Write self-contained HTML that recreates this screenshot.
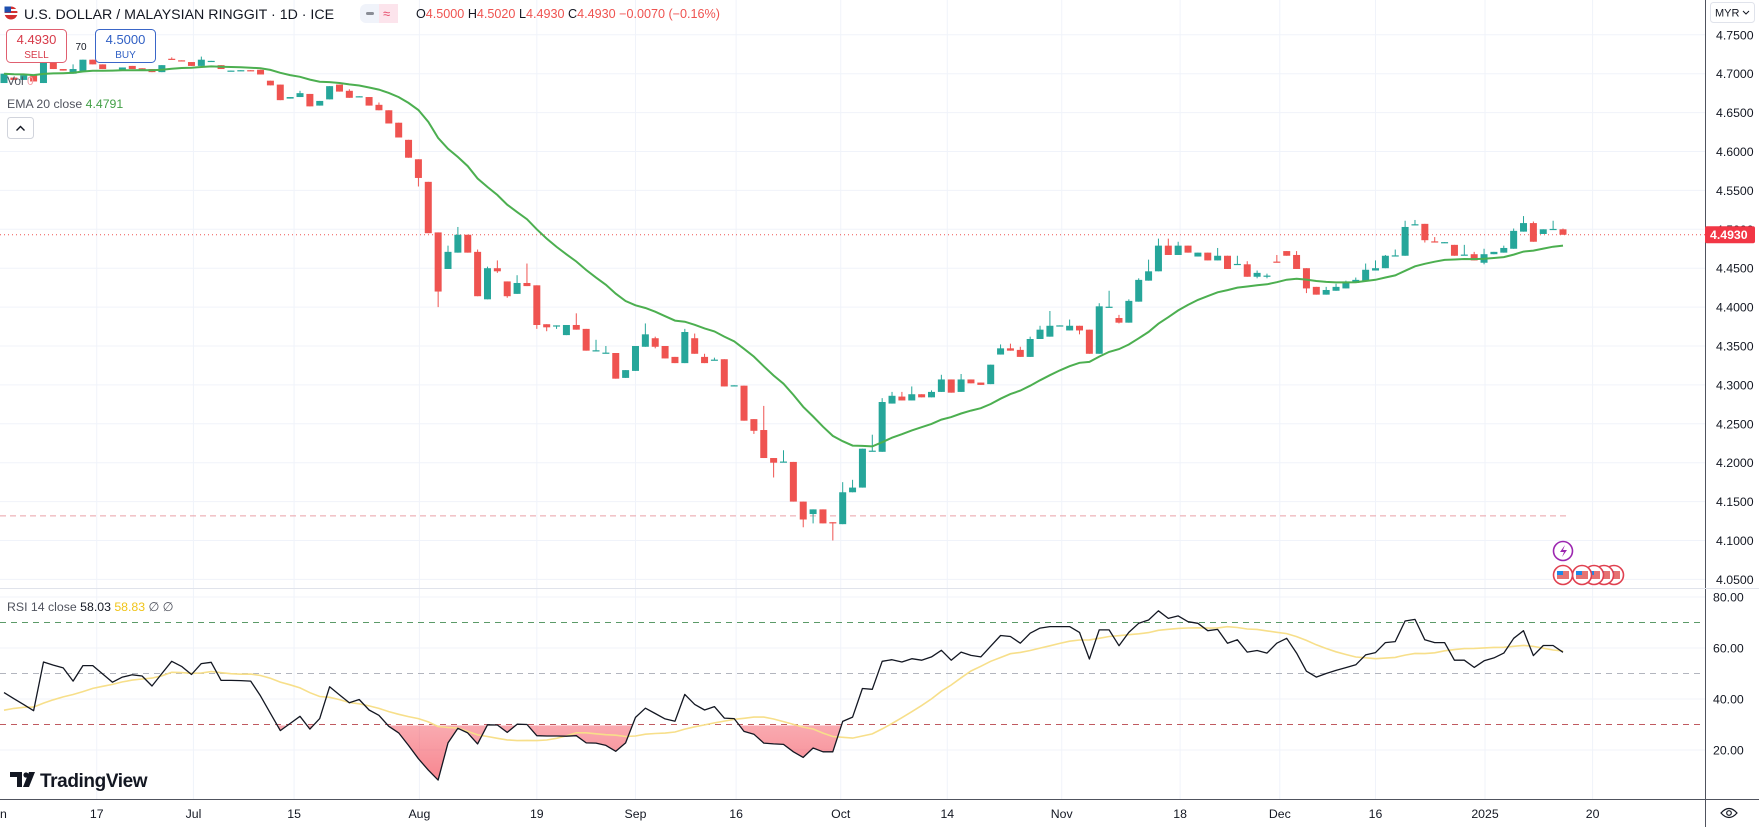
<!DOCTYPE html>
<html><head><meta charset="utf-8">
<style>
html,body{margin:0;padding:0;background:#fff;width:1759px;height:827px;overflow:hidden}
svg{display:block;font-family:"Liberation Sans",Arial,sans-serif}
</style></head>
<body>
<svg id="chart" width="1759" height="827" viewBox="0 0 1759 827" xmlns="http://www.w3.org/2000/svg">
<defs>
<linearGradient id="pinkGrad" x1="0" y1="0" x2="0" y2="1">
<stop offset="0" stop-color="#f23645" stop-opacity="0.05"/>
<stop offset="1" stop-color="#f23645" stop-opacity="0.6"/>
</linearGradient>
<clipPath id="below30"><rect x="0" y="725.5" width="1705" height="75"/></clipPath>
<clipPath id="pricePane"><rect x="0" y="0" width="1705" height="587"/></clipPath>
</defs>
<g id="grid"></g>
<g id="price" clip-path="url(#pricePane)"></g>
<g id="rsi"></g>
<g id="axes"></g>

<g>
<circle cx="11" cy="13" r="6.5" fill="#d32f2f"/>
<rect x="4.5" y="9" width="13" height="2" fill="#fff"/>
<rect x="4.5" y="13" width="13" height="2" fill="#fff"/>
<rect x="4.5" y="6.5" width="6.5" height="6" fill="#1e4fae"/>
</g>
<text x="24" y="19" font-size="14.2" fill="#131722">U.S. DOLLAR / MALAYSIAN RINGGIT · 1D · ICE</text>
<g>
<rect x="360" y="4" width="38" height="19" rx="6" fill="#f0f3fa"/>
<rect x="379" y="4" width="19" height="19" fill="#fce4ec"/>
<rect x="366" y="12" width="8" height="3" rx="1.5" fill="#8a8d96"/>
<text x="383" y="18" font-size="13" fill="#e64a6a">≈</text>
</g>
<text x="416" y="18" font-size="12.6"><tspan fill="#131722">O</tspan><tspan fill="#ef5350">4.5000</tspan><tspan fill="#131722"> H</tspan><tspan fill="#ef5350">4.5020</tspan><tspan fill="#131722"> L</tspan><tspan fill="#ef5350">4.4930</tspan><tspan fill="#131722"> C</tspan><tspan fill="#ef5350">4.4930 −0.0070 (−0.16%)</tspan></text>

<g>
<rect x="6.5" y="29.5" width="60" height="33" rx="4" fill="#fff" fill-opacity="0.85" stroke="#e06070"/>
<text x="36.5" y="44" font-size="13" fill="#d73a49" text-anchor="middle">4.4930</text>
<text x="36.5" y="58" font-size="10" fill="#d73a49" text-anchor="middle">SELL</text>
</g>
<text x="81" y="50" font-size="10" fill="#131722" text-anchor="middle">70</text>
<g>
<rect x="95.5" y="29.5" width="60" height="33" rx="4" fill="#fff" fill-opacity="0.85" stroke="#3a66c8"/>
<text x="125.5" y="44" font-size="13" fill="#2f5fc4" text-anchor="middle">4.5000</text>
<text x="125.5" y="58" font-size="10" fill="#2f5fc4" text-anchor="middle">BUY</text>
</g>
<text x="7" y="85" font-size="12"><tspan fill="#50535e">Vol</tspan><tspan fill="#f4a0a8"> 0</tspan></text>
<text x="7" y="108" font-size="12.3"><tspan fill="#50535e">EMA 20 close</tspan><tspan fill="#43a047"> 4.4791</tspan></text>
<g>
<rect x="7.5" y="117.5" width="26" height="21" rx="3" fill="#fff" stroke="#d1d4dc"/>
<path d="M16.5 130.5 L20.5 126.5 L24.5 130.5" fill="none" stroke="#131722" stroke-width="1.4"/>
</g>
<text x="7" y="611" font-size="12.3"><tspan fill="#50535e">RSI 14 close</tspan><tspan fill="#131722"> 58.03</tspan><tspan fill="#f0c419"> 58.83</tspan><tspan fill="#50535e"> ∅ ∅</tspan></text>

<g>
<path d="M10 772 h12 v15 h-5 v-10 h-7z" fill="#131722"/>
<circle cx="26" cy="775" r="2.6" fill="#131722"/>
<path d="M29 772 h6 l-6 15 h-6z" fill="#131722"/>
<text x="40" y="787" font-size="19" font-weight="bold" fill="#131722" letter-spacing="-0.4">TradingView</text>
</g>

<g>
<rect x="1710.5" y="2.5" width="44" height="20" rx="3" fill="#fff" stroke="#e0e3eb"/>
<text x="1715" y="16.5" font-size="11" fill="#131722">MYR</text>
<path d="M1743 11 l3 3 l3 -3" fill="none" stroke="#131722" stroke-width="1"/>
</g>

<g>
<circle cx="1563" cy="551" r="9.5" fill="#fff" stroke="#9c27b0" stroke-width="1.6"/>
<path d="M1565 545 l-5 7 h4 l-2 5 l5 -7 h-4z" fill="#9c27b0"/>
</g>
<g id="flags"></g>

<g>
<path d="M1721 813 q8 -9 16 0 q-8 9 -16 0z" fill="none" stroke="#131722" stroke-width="1.2"/>
<circle cx="1729" cy="813" r="2.3" fill="none" stroke="#131722" stroke-width="1.2"/>
</g>
</svg>

<script>
// ---------- data ----------
const opens = [4.688,4.695,4.692,4.698,4.688,4.714,4.706,4.700,4.703,4.718,4.712,4.704,4.704,4.710,4.707,4.706,4.702,4.7192,4.7172,4.715,4.710,4.716,4.711,4.703,4.704,4.7045,4.705,4.691,4.686,4.668,4.670,4.674,4.659,4.667,4.686,4.678,4.670,4.670,4.660,4.653,4.637,4.615,4.590,4.561,4.496,4.449,4.470,4.493,4.471,4.410,4.450,4.433,4.417,4.431,4.428,4.378,4.376,4.364,4.377,4.372,4.344,4.341,4.341,4.309,4.318,4.349,4.360,4.350,4.336,4.328,4.360,4.336,4.332,4.333,4.299,4.299,4.256,4.242,4.206,4.201,4.201,4.150,4.134,4.140,4.1235,4.121,4.162,4.168,4.215,4.214,4.276,4.285,4.280,4.288,4.284,4.291,4.307,4.291,4.307,4.303,4.301,4.339,4.347,4.345,4.336,4.359,4.362,4.376,4.370,4.376,4.371,4.340,4.400,4.386,4.380,4.407,4.434,4.446,4.479,4.467,4.479,4.465,4.470,4.460,4.466,4.455,4.455,4.439,4.440,4.4585,4.472,4.467,4.450,4.426,4.416,4.421,4.424,4.431,4.434,4.447,4.450,4.466,4.466,4.506,4.507,4.4845,4.483,4.480,4.467,4.468,4.457,4.468,4.470,4.475,4.497,4.508,4.494,4.500,4.500];
const closes = [4.700,4.692,4.698,4.690,4.714,4.706,4.704,4.706,4.718,4.712,4.706,4.7045,4.708,4.706,4.706,4.702,4.711,4.719,4.717,4.710,4.718,4.7165,4.706,4.704,4.7045,4.704,4.699,4.685,4.666,4.670,4.675,4.658,4.665,4.684,4.677,4.669,4.671,4.659,4.653,4.636,4.618,4.592,4.566,4.495,4.420,4.471,4.493,4.470,4.414,4.450,4.446,4.414,4.431,4.427,4.377,4.374,4.3765,4.377,4.371,4.344,4.3445,4.3415,4.308,4.319,4.350,4.365,4.349,4.334,4.328,4.368,4.340,4.328,4.3325,4.298,4.2995,4.254,4.241,4.206,4.200,4.2015,4.150,4.127,4.140,4.122,4.123,4.162,4.168,4.218,4.2155,4.278,4.286,4.280,4.288,4.284,4.291,4.307,4.290,4.307,4.302,4.300,4.326,4.347,4.344,4.336,4.359,4.371,4.376,4.3765,4.376,4.370,4.340,4.401,4.4005,4.380,4.408,4.435,4.446,4.479,4.467,4.479,4.470,4.470,4.460,4.466,4.449,4.4555,4.439,4.444,4.4405,4.458,4.466,4.449,4.424,4.416,4.422,4.426,4.431,4.435,4.448,4.450,4.466,4.4665,4.503,4.5065,4.486,4.484,4.4835,4.466,4.4675,4.460,4.468,4.471,4.476,4.498,4.508,4.484,4.500,4.5005,4.493];
const highPairs = [[7,4.712],[17,4.721],[20,4.722],[30,4.678],[35,4.680],[38,4.663],[45,4.479],[46,4.503],[48,4.474],[49,4.452],[50,4.460],[52,4.441],[53,4.456],[58,4.392],[60,4.358],[61,4.350],[65,4.379],[66,4.362],[69,4.372],[70,4.366],[71,4.340],[72,4.335],[77,4.273],[79,4.216],[85,4.175],[86,4.178],[88,4.236],[89,4.283],[90,4.291],[91,4.291],[92,4.298],[94,4.293],[95,4.313],[97,4.314],[99,4.303],[101,4.352],[102,4.353],[103,4.349],[104,4.362],[105,4.376],[106,4.395],[108,4.384],[111,4.405],[112,4.421],[113,4.390],[114,4.410],[115,4.437],[116,4.461],[117,4.488],[118,4.488],[119,4.484],[123,4.476],[125,4.466],[126,4.459],[127,4.447],[128,4.443],[129,4.467],[131,4.472],[134,4.426],[135,4.430],[136,4.434],[137,4.438],[138,4.456],[139,4.460],[140,4.467],[141,4.474],[142,4.511],[143,4.512],[145,4.490],[148,4.480],[149,4.471],[150,4.475],[152,4.479],[153,4.501],[154,4.517],[155,4.510],[157,4.511],[158,4.501]];
const lowPairs = [[42,4.555],[44,4.400],[50,4.444],[51,4.412],[54,4.372],[55,4.369],[56,4.372],[60,4.343],[66,4.347],[76,4.237],[78,4.181],[81,4.117],[82,4.122],[84,4.100],[109,4.365],[113,4.379],[127,4.437],[128,4.437],[132,4.418],[144,4.483],[150,4.455]];
const emaSeed = 4.700;
const rsiValues = [42.5,40.1,37.8,35.4,54.5,53.3,52.2,47.0,53.1,53.1,49.8,46.6,48.6,49.5,49.0,45.1,50.0,54.8,52.8,49.6,53.9,54.4,47.3,47.3,47.2,47.0,41.2,34.4,27.6,30.4,33.2,28.2,32.3,44.8,41.6,38.5,39.8,35.7,33.6,29.3,26.7,21.8,16.6,12.1,8.2,22.8,28.5,26.7,22.4,29.9,29.8,26.9,30.1,30.0,25.6,25.5,25.5,25.4,25.6,22.8,22.7,21.8,19.5,22.8,32.8,36.4,34.3,32.2,31.3,41.8,37.9,35.7,37.0,32.5,32.3,27.3,26.2,22.7,22.4,22.2,19.3,17.1,20.8,19.3,19.3,31.2,32.9,44.1,43.8,54.8,55.4,54.5,55.8,55.2,56.5,59.1,55.2,58.4,57.1,56.5,60.7,64.9,64.5,61.9,65.8,67.8,68.4,68.4,68.4,66.1,55.7,67.1,67.1,60.9,66.1,69.7,71.0,74.6,71.6,72.6,70.3,69.7,66.8,67.3,61.9,63.2,58.4,59.0,58.0,61.9,63.8,58.0,50.9,48.6,50.0,51.2,52.3,53.4,57.3,58.2,62.1,62.5,70.6,71.2,63.2,62.1,62.1,55.2,55.2,52.4,55.0,56.1,58.0,63.8,66.8,57.0,61.0,61.0,58.3];
const rsiPrior = [30,32,34,33,35,36,34,37,36,38,36,35,40];
const priceTicks = [4.05,4.10,4.15,4.20,4.25,4.30,4.35,4.40,4.45,4.50,4.55,4.60,4.65,4.70,4.75];
const rsiTicks = [20,40,60,80];
const timeLabels = ["17","Jul","15","Aug","19","Sep","16","Oct","14","Nov","18","Dec","16","2025","20"];
const timeIdx = [9.4,19.2,29.4,42.1,54.0,64.0,74.2,84.8,95.6,107.2,119.2,129.3,139.0,150.1,161.0];
const lastPrice = 4.4930;
const prevLine = 4.1316;

// ---------- scales ----------
const NS = "http://www.w3.org/2000/svg";
const xOf = i => 4 + i * 9.867;
const yP = p => 229.3 + (4.5 - p) * 778;
const yR = r => 648 - (r - 60) * 2.55;
function mk(tag, attrs, parent){const e=document.createElementNS(NS,tag);for(const k in attrs)e.setAttribute(k,attrs[k]);parent.appendChild(e);return e;}
const grid = document.getElementById('grid'), price = document.getElementById('price'), rsiG = document.getElementById('rsi'), axes = document.getElementById('axes');

priceTicks.forEach(p=>{const l=mk('line',{x1:0,x2:1705,y1:yP(p),y2:yP(p),stroke:'#f0f3fa','stroke-width':1},grid);

});
rsiTicks.forEach(r=>{const l=mk('line',{x1:0,x2:1705,y1:yR(r),y2:yR(r),stroke:'#f0f3fa'},grid);

});
timeIdx.forEach(i=>{const l=mk('line',{x1:xOf(i),x2:xOf(i),y1:0,y2:799,stroke:'#f0f3fa'},grid);

});

const pl = mk('line',{x1:0,x2:1568,y1:yP(prevLine),y2:yP(prevLine),stroke:'#e9a0a8','stroke-dasharray':'6 4'},price);


const lpl = mk('line',{x1:0,x2:1705,y1:yP(lastPrice),y2:yP(lastPrice),stroke:'#ef5350','stroke-dasharray':'1 3'},price);



const highs = closes.map((c,i)=>Math.max(c,opens[i])); highPairs.forEach(([i,v])=>highs[i]=v);
const lows = closes.map((c,i)=>Math.min(c,opens[i])); lowPairs.forEach(([i,v])=>lows[i]=v);
closes.forEach((c,i)=>{
  const o=opens[i], up=c>=o, col=up?'#26a69a':'#ef5350', x=xOf(i);
  const g=mk('g',{},price);
  
  
  mk('line',{x1:x,x2:x,y1:yP(highs[i]),y2:yP(lows[i]),stroke:col,'stroke-width':1},g);
  const t=yP(Math.max(o,c)), b=yP(Math.min(o,c));
  mk('rect',{x:x-3.5,y:t,width:7,height:Math.max(1.2,b-t),fill:col},g);
});

const k=2/21; let e=emaSeed; const ema=closes.map(c=>(e=c*k+e*(1-k)));
const emaPath = mk('path',{d:ema.map((v,i)=>(i?'L':'M')+xOf(i).toFixed(1)+' '+yP(v).toFixed(1)).join(''),fill:'none',stroke:'#4caf50','stroke-width':2},price);



[[70,'#5b9a68'],[50,'#b2b5be'],[30,'#c05a60']].forEach(([v,c])=>{const l=mk('line',{x1:0,x2:1705,y1:yR(v),y2:yR(v),stroke:c,'stroke-dasharray':'6 5'},rsiG);

});
const pts = rsiValues.map((r,i)=>xOf(i).toFixed(1)+' '+yR(r).toFixed(1));
const fill = mk('path',{d:'M'+xOf(0)+' '+yR(30)+' L'+pts.join(' L')+' L'+xOf(rsiValues.length-1)+' '+yR(30)+'Z',fill:'url(#pinkGrad)','clip-path':'url(#below30)'},rsiG);


const all = rsiPrior.concat(rsiValues); const ma = rsiValues.map((r,i)=>{let s=0;for(let j=i;j<i+14;j++)s+=all[j];return s/14;});
const maPath = mk('path',{d:ma.map((v,i)=>(i?'L':'M')+xOf(i).toFixed(1)+' '+yR(v).toFixed(1)).join(''),fill:'none',stroke:'#f7df8a','stroke-width':1.6},rsiG);


const rsiPath = mk('path',{d:'M'+pts.join(' L'),fill:'none',stroke:'#131722','stroke-width':1.3,'stroke-linejoin':'round'},rsiG);



const sep=[['line',{x1:1705.5,x2:1705.5,y1:0,y2:827,stroke:'#50535e'}],['line',{x1:0,x2:1759,y1:588.5,y2:588.5,stroke:'#e0e3eb'}],['line',{x1:0,x2:1759,y1:799.5,y2:799.5,stroke:'#50535e'}]];
sep.forEach(([t,a])=>{const l=mk(t,a,axes);

});
priceTicks.forEach(p=>{const t=mk('text',{x:1716,y:yP(p)+4.5,'font-size':12.3,fill:'#131722'},axes);t.textContent=p.toFixed(4);

});
rsiTicks.forEach(r=>{const t=mk('text',{x:1713,y:yR(r)+4.5,'font-size':12.3,fill:'#131722'},axes);t.textContent=r.toFixed(2);

});
timeLabels.forEach((s,n)=>{const t=mk('text',{x:xOf(timeIdx[n]),y:818,'font-size':12.3,fill:'#131722','text-anchor':'middle'},axes);t.textContent=s;

});
const jn=mk('text',{x:0,y:818,'font-size':12.3,fill:'#131722'},axes);jn.textContent='n';


const lg=mk('g',{},axes);


mk('rect',{x:1705,y:yP(lastPrice)-8.5,width:50,height:17,rx:2,fill:'#f23645'},lg);
const lt=mk('text',{x:1710,y:yP(lastPrice)+4.5,'font-size':12.3,'font-weight':'bold',fill:'#fff'},lg);lt.textContent=lastPrice.toFixed(4);

const flagX=[1563,1582,1594,1604,1614];
const fg=document.getElementById('flags');
flagX.slice().reverse().forEach(x=>{const g=mk('g',{},fg);


mk('circle',{cx:x,cy:575,r:9.5,fill:'#fff',stroke:'#e04050','stroke-width':1.6},g);
mk('rect',{x:x-6,y:571,width:12,height:8,fill:'#e57373'},g);
mk('rect',{x:x-6,y:571,width:6,height:4,fill:'#1e88e5'},g);});
</script>
</body></html>
